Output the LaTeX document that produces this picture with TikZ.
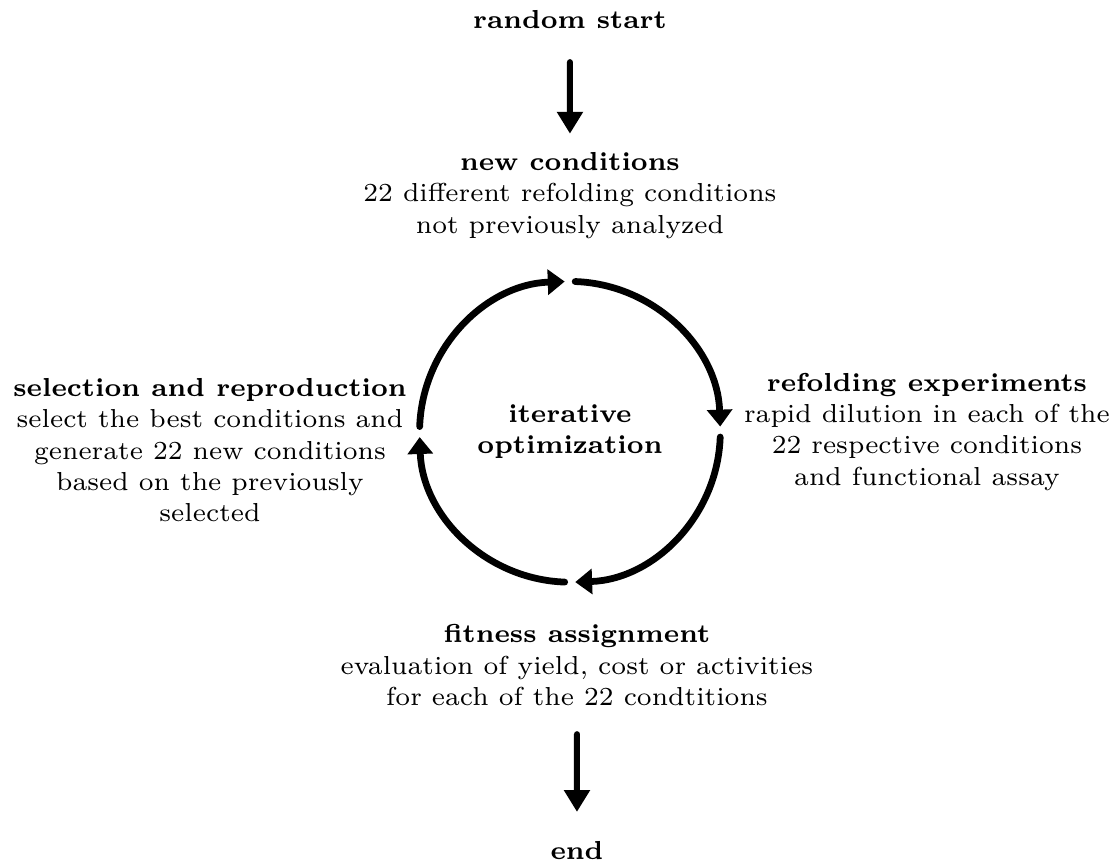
\documentclass[tikz,border=0pt]{standalone}
\usepackage{amsmath,amsfonts,amssymb}
\usetikzlibrary{arrows.meta,calc,positioning}

\begin{document}
\begin{tikzpicture}[
    stage/.style={align=center,inner sep=2.1pt,scale=1.4286,font=\fontsize{7}{8.4}\selectfont},
    cyclearrow/.style={line width=2.6pt,line cap=round,-{Triangle[length=6.5pt,width=9.5pt]}},
    flowarrow/.style={line width=2.3pt,line cap=round,-{Triangle[length=8.4pt,width=9.6pt]}}]
       \useasboundingbox (0,0) rectangle (15,-11.624);
       \coordinate (C) at (7.695,-5.83);
       \node[stage] (start) at (7.695,-0.27) {\textbf{random start}};
       \node[stage] (newcond) at (7.695,-2.64) {\textbf{new conditions}\\22 different refolding conditions\\not previously analyzed};
       \node[stage] (refold) at (12.515,-5.83) {\textbf{refolding experiments}\\rapid dilution in each of the\\22 respective conditions\\and functional assay};
       \node[stage] (fitness) at (7.79,-8.98) {\textbf{fitness assignment}\\evaluation of yield, cost or activities\\for each of the 22 condtitions};
       \node[stage] (select) at (2.835,-6.08) {\textbf{selection and reproduction}\\select the best conditions and\\generate 22 new conditions\\based on the previously\\selected};
       \node[stage] (iter) at (C) {\textbf{iterative}\\\textbf{optimization}};
       \node[stage] (end) at (7.79,-11.48) {\textbf{end}};
       % cycle
       \foreach \a in {90,0,-90,-180}
         \draw[cyclearrow] ($(C)+(\a-2:2.03)$) arc[start angle=\a-2,end angle=\a-88,radius=2.03];
       \draw[flowarrow,shorten <=0.33cm,shorten >=0.14cm] (start) -- (newcond);
       \draw[flowarrow,shorten <=0.27cm,shorten >=0.28cm] (fitness) -- (end);
     \end{tikzpicture}
\end{document}
